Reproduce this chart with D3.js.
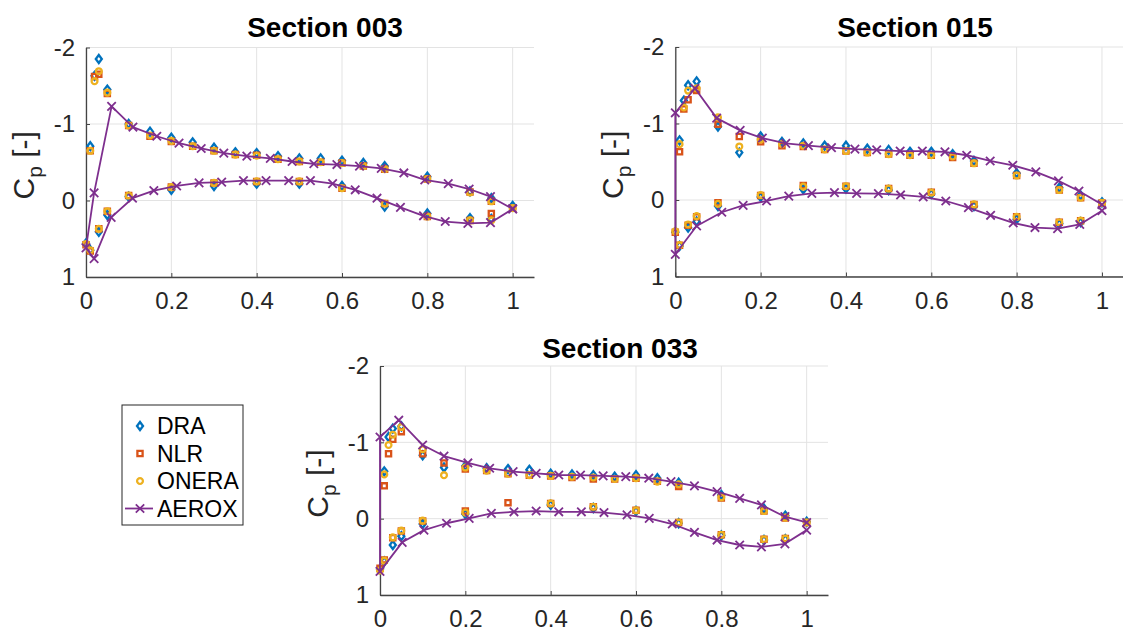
<!DOCTYPE html>
<html><head><meta charset="utf-8">
<script src="https://cdn.jsdelivr.net/npm/d3@7"></script>
<style>
body{margin:0;background:#fff}
svg{display:block}
text{font-family:"Liberation Sans",Arial,Helvetica,sans-serif}
</style>
</head><body>
<svg id="chart" width="1123" height="635"></svg>
<script>
// ---------- data ----------
const sectionTitles = ["Section 003", "Section 015", "Section 033"];
const seriesNames = ["DRA", "NLR", "ONERA", "AEROX"];
const xTicks = [0, 0.2, 0.4, 0.6, 0.8, 1];
const yTicks = [-2, -1, 0, 1];

// experimental stations (upper surface then lower surface)
const expUpperX = [0, 0.01, 0.02, 0.03, 0.05, 0.1, 0.15, 0.2, 0.25, 0.3, 0.35, 0.4, 0.45, 0.5, 0.55, 0.6, 0.65, 0.7, 0.8, 0.9, 0.95, 1.0];
const expLowerX = [0.01, 0.03, 0.05, 0.1, 0.2, 0.3, 0.4, 0.5, 0.6, 0.7, 0.8, 0.9, 0.95];

// Section 003
const dra003Upper   = [0.56, -0.71, -1.63, -1.85, -1.45, -1.00, -0.90, -0.82, -0.76, -0.69, -0.63, -0.62, -0.58, -0.55, -0.55, -0.52, -0.49, -0.45, -0.31, -0.12, -0.03, 0.07];
const nlr003Upper   = [0.58, -0.65, -1.62, -1.65, -1.40, -0.98, -0.84, -0.77, -0.71, -0.65, -0.60, -0.59, -0.54, -0.51, -0.50, -0.49, -0.45, -0.41, -0.28, -0.11, 0.01, 0.10];
const onera003Upper = [0.57, -0.65, -1.56, -1.69, -1.41, -0.98, -0.85, -0.78, -0.71, -0.65, -0.60, -0.585, -0.54, -0.51, -0.50, -0.49, -0.45, -0.41, -0.28, -0.105, 0.01, 0.10];
const dra003Lower   = [0.65, 0.41, 0.19, -0.05, -0.14, -0.19, -0.22, -0.22, -0.19, 0.08, 0.17, 0.23, 0.24];
const nlr003Lower   = [0.66, 0.37, 0.14, -0.065, -0.175, -0.23, -0.25, -0.25, -0.16, 0.04, 0.21, 0.26, 0.17];
const onera003Lower = [0.65, 0.37, 0.14, -0.065, -0.175, -0.23, -0.25, -0.25, -0.16, 0.04, 0.21, 0.26, 0.26];
const aerox003X  = [1.0, 0.948, 0.898, 0.849, 0.794, 0.745, 0.692, 0.641, 0.588, 0.534, 0.483, 0.432, 0.377, 0.323, 0.27, 0.218, 0.166, 0.11, 0.06, 0.019, 0, 0.019, 0.059, 0.109, 0.159, 0.2125, 0.265, 0.318, 0.369, 0.422, 0.475, 0.526, 0.578, 0.631, 0.682, 0.737, 0.791, 0.842, 0.895, 0.948, 1.0];
const aerox003Cp = [0.11, -0.05, -0.15, -0.22, -0.27, -0.36, -0.42, -0.45, -0.47, -0.48, -0.51, -0.55, -0.58, -0.62, -0.68, -0.75, -0.84, -0.96, -1.23, -0.10, 0.62, 0.76, 0.22, -0.03, -0.13, -0.19, -0.23, -0.24, -0.26, -0.26, -0.26, -0.26, -0.22, -0.14, -0.03, 0.09, 0.20, 0.275, 0.30, 0.29, 0.11];

// Section 015
const dra015Upper   = [0.42, -0.78, -1.30, -1.50, -1.55, -0.96, -0.62, -0.83, -0.76, -0.74, -0.71, -0.71, -0.67, -0.655, -0.63, -0.63, -0.60, -0.51, -0.35, -0.16, -0.06, 0.03];
const nlr015Upper   = [0.42, -0.63, -1.19, -1.31, -1.43, -0.99, -0.83, -0.76, -0.71, -0.70, -0.66, -0.64, -0.62, -0.60, -0.585, -0.585, -0.555, -0.48, -0.32, -0.13, -0.03, 0.04];
const onera015Upper = [0.41, -0.73, -1.21, -1.43, -1.46, -1.08, -0.70, -0.79, -0.73, -0.71, -0.66, -0.64, -0.62, -0.60, -0.585, -0.585, -0.57, -0.48, -0.32, -0.13, -0.03, 0.035];
const dra015Lower   = [0.60, 0.36, 0.28, 0.08, -0.04, -0.14, -0.15, -0.13, -0.08, 0.08, 0.25, 0.31, 0.29];
const nlr015Lower   = [0.59, 0.33, 0.22, 0.035, -0.06, -0.19, -0.18, -0.15, -0.10, 0.06, 0.22, 0.29, 0.27];
const onera015Lower = [0.59, 0.32, 0.21, 0.05, -0.065, -0.175, -0.18, -0.15, -0.096, 0.057, 0.22, 0.29, 0.27];
const aerox015X  = [1.0, 0.946, 0.898, 0.845, 0.791, 0.738, 0.683, 0.632, 0.579, 0.527, 0.472, 0.421, 0.366, 0.312, 0.259, 0.204, 0.152, 0.097, 0.046, 0.0, 0.0, 0.05, 0.109, 0.159, 0.214, 0.266, 0.32, 0.373, 0.425, 0.476, 0.528, 0.581, 0.634, 0.687, 0.739, 0.792, 0.843, 0.896, 0.948, 1.0];
const aerox015Cp = [0.06, -0.118, -0.25, -0.367, -0.454, -0.51, -0.585, -0.63, -0.64, -0.64, -0.655, -0.665, -0.685, -0.71, -0.74, -0.81, -0.91, -1.07, -1.46, -1.14, 0.71, 0.34, 0.16, 0.07, 0.013, -0.05, -0.087, -0.096, -0.087, -0.083, -0.066, -0.04, 0.013, 0.10, 0.20, 0.30, 0.36, 0.375, 0.32, 0.14];

// Section 033
const dra033Upper   = [0.66, -0.62, -1.07, -1.18, -1.21, -0.83, -0.67, -0.69, -0.66, -0.65, -0.64, -0.59, -0.58, -0.57, -0.55, -0.57, -0.53, -0.47, -0.31, -0.13, -0.04, 0.04];
const nlr033Upper   = [0.65, -0.43, -0.85, -1.04, -1.14, -0.85, -0.73, -0.65, -0.63, -0.59, -0.57, -0.56, -0.54, -0.52, -0.52, -0.53, -0.49, -0.42, -0.27, -0.10, -0.01, 0.05];
const onera033Upper = [0.68, -0.58, -0.965, -1.10, -1.20, -0.91, -0.57, -0.67, -0.63, -0.59, -0.57, -0.56, -0.55, -0.54, -0.52, -0.53, -0.485, -0.45, -0.28, -0.10, -0.013, 0.05];
const dra033Lower   = [0.56, 0.345, 0.23, 0.07, -0.06, null, -0.18, -0.14, -0.10, 0.06, 0.22, 0.28, 0.27];
const nlr033Lower   = [0.54, 0.25, 0.16, 0.03, -0.10, -0.21, -0.20, -0.157, -0.11, 0.05, 0.21, 0.27, 0.26];
const onera033Lower = [0.55, 0.245, 0.157, 0.026, -0.08, null, -0.20, -0.157, -0.11, 0.05, 0.21, 0.27, 0.26];
const aerox033X  = [1.0, 0.949, 0.894, 0.843, 0.79, 0.737, 0.682, 0.63, 0.576, 0.523, 0.47, 0.419, 0.366, 0.312, 0.257, 0.206, 0.15, 0.1, 0.044, 0.0, 0.0, 0.052, 0.103, 0.156, 0.209, 0.261, 0.314, 0.366, 0.419, 0.472, 0.525, 0.579, 0.631, 0.685, 0.737, 0.79, 0.843, 0.894, 0.949, 1.0];
const aerox033Cp = [0.05, -0.026, -0.18, -0.266, -0.354, -0.43, -0.485, -0.53, -0.55, -0.56, -0.57, -0.572, -0.594, -0.616, -0.66, -0.73, -0.82, -0.965, -1.29, -1.07, 0.69, 0.31, 0.15, 0.06, -0.004, -0.07, -0.09, -0.10, -0.09, -0.09, -0.08, -0.05, -0.004, 0.07, 0.18, 0.28, 0.345, 0.37, 0.33, 0.15];

// ---------- styling / layout ----------
const colors = {DRA: "#0072BD", NLR: "#D95319", ONERA: "#EDB120", AEROX: "#7E2F8E"};
const xDomain = [0, 1.05];
const yDomain = [-2, 1];

const panels = [
  {title: sectionTitles[0], left: 86, width: 448, top: 47.5, height: 229.5, titleX: 325, titleY: 36.5,
   exp: {DRA: [dra003Upper, dra003Lower], NLR: [nlr003Upper, nlr003Lower], ONERA: [onera003Upper, onera003Lower]},
   aeroxX: aerox003X, aeroxCp: aerox003Cp},
  {title: sectionTitles[1], left: 675.3, width: 448, top: 47, height: 229.5, titleX: 915, titleY: 36.5,
   exp: {DRA: [dra015Upper, dra015Lower], NLR: [nlr015Upper, nlr015Lower], ONERA: [onera015Upper, onera015Lower]},
   aeroxX: aerox015X, aeroxCp: aerox015Cp},
  {title: sectionTitles[2], left: 380, width: 448, top: 366, height: 229, titleX: 620, titleY: 358,
   exp: {DRA: [dra033Upper, dra033Lower], NLR: [nlr033Upper, nlr033Lower], ONERA: [onera033Upper, onera033Lower]},
   aeroxX: aerox033X, aeroxCp: aerox033Cp}
];

const markerPath = {
  DRA: "M0,-4L3,0L0,4L-3,0Z",
  NLR: "M-2.6,-2.6H2.6V2.6H-2.6Z",
  ONERA: d3.symbol().type(d3.symbolCircle).size(Math.PI * 2.9 * 2.9)(),
  AEROX: "M-4.2,-4.2L4.2,4.2M-4.2,4.2L4.2,-4.2"
};
const markerStroke = 2.3;
const aeroxStroke = 1.8;

const svg = d3.select("#chart");

panels.forEach(p => {
  const x = d3.scaleLinear().domain(xDomain).range([0, p.width]);
  const y = d3.scaleLinear().domain(yDomain).range([0, p.height]);
  const g = svg.append("g").attr("transform", `translate(${p.left},${p.top})`);

  // grid
  g.append("g").selectAll("line").data(xTicks).join("line")
    .attr("x1", d => x(d)).attr("x2", d => x(d)).attr("y1", 0).attr("y2", p.height)
    .attr("stroke", "#e3e3e3").attr("stroke-width", 1);
  g.append("g").selectAll("line").data(yTicks).join("line")
    .attr("x1", 0).attr("x2", p.width).attr("y1", d => y(d)).attr("y2", d => y(d))
    .attr("stroke", "#e3e3e3").attr("stroke-width", 1);

  // axes
  const xa = g.append("g").attr("transform", `translate(0,${p.height})`)
    .call(d3.axisBottom(x).tickValues(xTicks).tickFormat(d => String(d)).tickSize(-4).tickSizeOuter(0).tickPadding(15));
  const ya = g.append("g")
    .call(d3.axisLeft(y).tickValues(yTicks).tickFormat(d => String(d)).tickSize(-4).tickSizeOuter(0).tickPadding(11));
  [xa, ya].forEach(a => {
    a.select(".domain").attr("stroke", "#444").attr("stroke-width", 1.3);
    a.selectAll(".tick line").attr("stroke", "#444").attr("stroke-width", 1);
    a.selectAll(".tick text").attr("fill", "#262626").style("font-size", "24px")
      .style("font-family", "'Liberation Sans', Arial, sans-serif");
  });

  // y label
  const yl = g.append("text")
    .attr("transform", `translate(-52,${p.height / 2 + 3}) rotate(-90)`)
    .attr("text-anchor", "middle").attr("fill", "#262626").style("font-size", "30px");
  yl.append("tspan").text("C");
  yl.append("tspan").attr("dy", 8).style("font-size", "21px").text("p");
  yl.append("tspan").attr("dy", -8).text(" [-]");

  // title
  svg.append("text").attr("x", p.titleX).attr("y", p.titleY).attr("text-anchor", "middle")
    .style("font-size", "28px").style("font-weight", "bold").attr("fill", "#000").text(p.title);

  // experimental markers
  ["DRA", "NLR", "ONERA"].forEach(name => {
    const [up, lo] = p.exp[name];
    const pts = expUpperX.map((xv, i) => [xv, up[i]])
      .concat(expLowerX.map((xv, i) => [xv, lo[i]]))
      .filter(d => d[1] !== null);
    g.append("g").selectAll("path").data(pts).join("path")
      .attr("transform", d => `translate(${x(d[0])},${y(d[1])})`)
      .attr("d", markerPath[name])
      .attr("fill", "none").attr("stroke", colors[name]).attr("stroke-width", markerStroke);
  });

  // AEROX line + markers
  const apts = p.aeroxX.map((xv, i) => [xv, p.aeroxCp[i]]);
  g.append("path").datum(apts)
    .attr("d", d3.line().x(d => x(d[0])).y(d => y(d[1])))
    .attr("fill", "none").attr("stroke", colors.AEROX).attr("stroke-width", aeroxStroke).attr("stroke-linejoin", "round");
  g.append("g").selectAll("path").data(apts).join("path")
    .attr("transform", d => `translate(${x(d[0])},${y(d[1])})`)
    .attr("d", markerPath.AEROX)
    .attr("fill", "none").attr("stroke", colors.AEROX).attr("stroke-width", aeroxStroke);
});

// legend
const lg = svg.append("g").attr("transform", "translate(122,405)");
lg.append("rect").attr("x", 0).attr("y", 0).attr("width", 121).attr("height", 120)
  .attr("fill", "#fff").attr("stroke", "#262626").attr("stroke-width", 1);
const rowY = d3.scalePoint().domain(seriesNames).range([21, 103.5]);
seriesNames.forEach(name => {
  const row = lg.append("g").attr("transform", `translate(0,${rowY(name)})`);
  if (name === "AEROX") {
    row.append("line").attr("x1", 3).attr("x2", 31).attr("y1", 0).attr("y2", 0)
      .attr("stroke", colors.AEROX).attr("stroke-width", aeroxStroke);
  }
  row.append("path").attr("transform", "translate(18,0)").attr("d", markerPath[name])
    .attr("fill", "none").attr("stroke", colors[name]).attr("stroke-width", name === "AEROX" ? aeroxStroke : markerStroke);
  row.append("text").attr("x", 35).attr("y", 0).attr("dy", "0.35em")
    .style("font-size", "23px").attr("fill", "#000").text(name);
});
</script>
</body></html>
